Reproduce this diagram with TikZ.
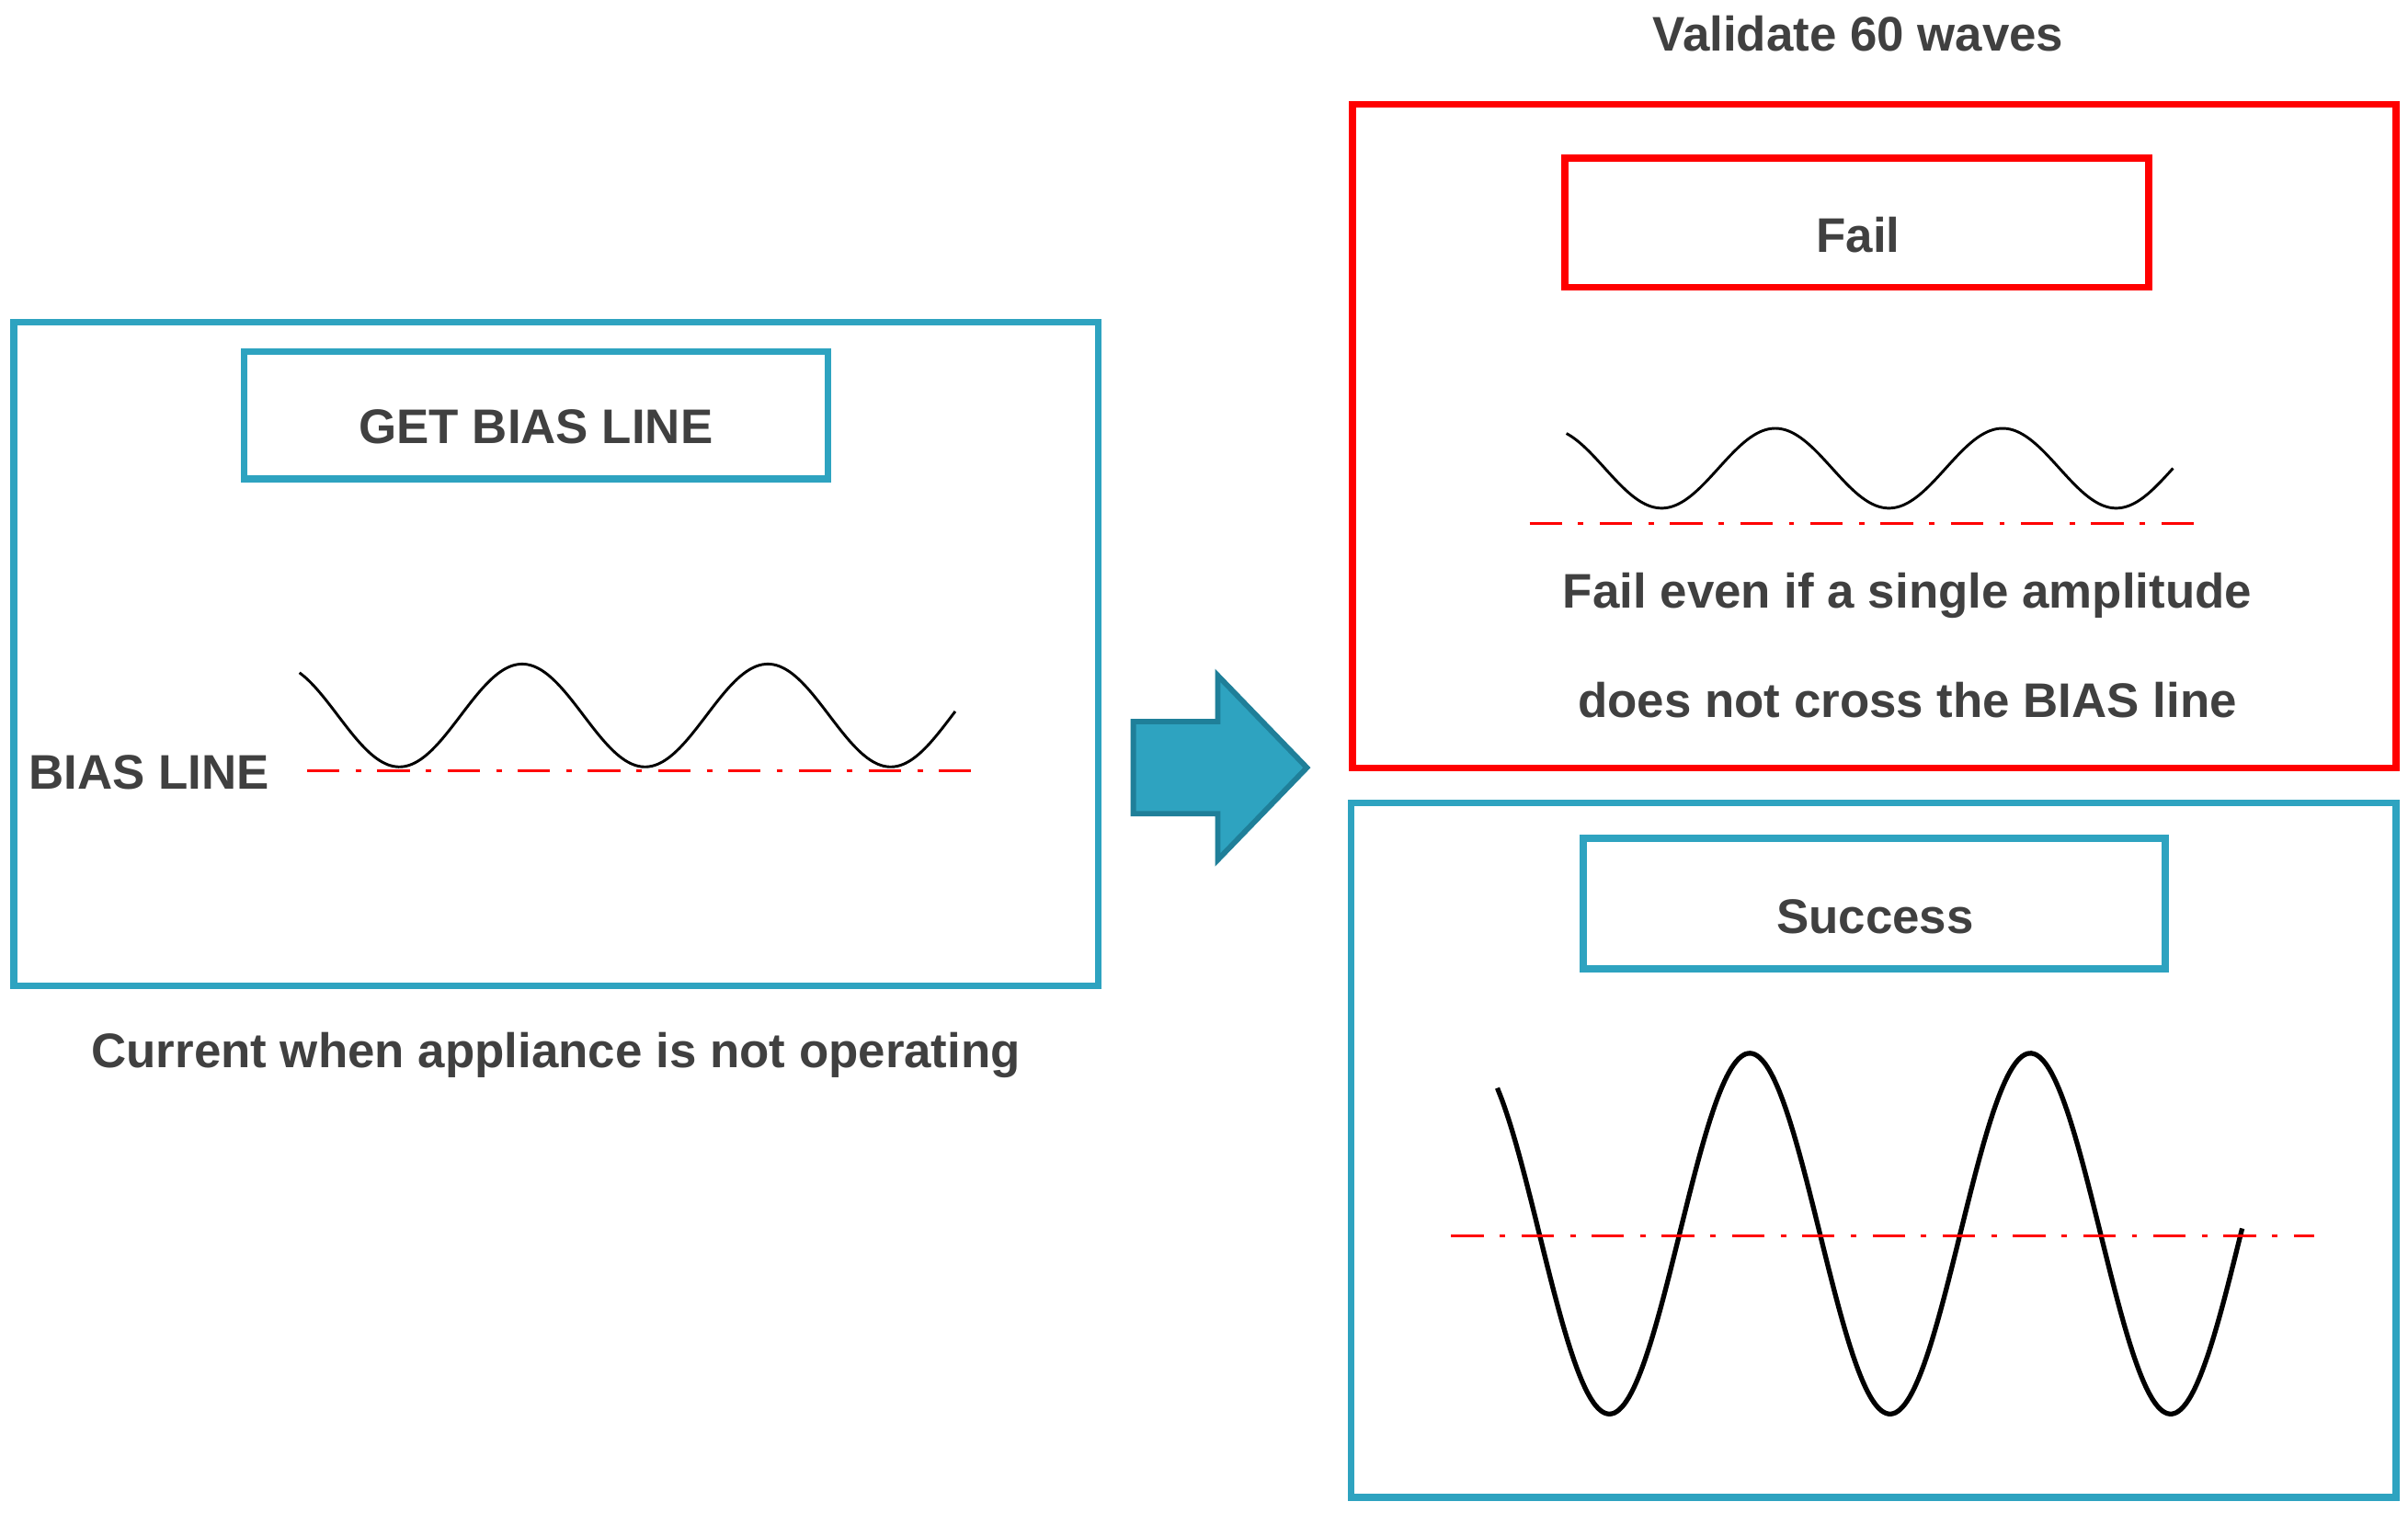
\documentclass[tikz,border=0pt]{standalone}
\usepackage{fontspec}
\setmainfont{Liberation Sans}
\usetikzlibrary{positioning}
\definecolor{teal}{HTML}{2EA3C0}
\definecolor{tealdark}{HTML}{1F7F99}
\definecolor{txt}{HTML}{404040}
\tikzset{
  frame/.style={draw, line width=1.3pt, inner sep=0pt},
  lbl/.style={font=\bfseries\fontsize{9}{11}\selectfont, text=txt},
  bias/.style={red, line width=0.5pt, dash pattern=on 6pt off 3pt on 1pt off 3pt}
}
\begin{document}
\begin{tikzpicture}[x=0.01cm, y=-0.01cm]
\useasboundingbox (0,0) rectangle (1568,985);
% left part
\node (left_box) at (362,426) [frame, teal, minimum width=7.06cm, minimum height=4.32cm] {};
\node (bias_box) at (349,270.5) [frame, teal, minimum width=3.8cm, minimum height=0.83cm] {};
\node (bias_txt) at (349,278) [lbl] {GET BIAS LINE};
\node (bias_lbl) at (97,503) [lbl] {BIAS LINE};
\node (caption) at (362,687) [lbl] {Current when appliance is not operating};
\draw [line width=0.5pt] plot[domain=195:622, samples=120, smooth] (\x,{466+33.5*cos(2.25*(\x-260))});
\draw [bias] (200,502) -- (632,502);

% arrow
\draw [fill=teal, draw=tealdark, line width=1pt] (738,470) -- (793,470) -- (793,440) -- (851,500) -- (793,560) -- (793,530) -- (738,530) -- cycle;

% fail part
\node (title) at (1210,22) [lbl] {Validate 60 waves};
\node (fail_box) at (1220.5,284) [frame, red, minimum width=6.79cm, minimum height=4.32cm] {};
\node (fail_lbl) at (1209,145) [frame, red, minimum width=3.8cm, minimum height=0.84cm] {};
\node (fail_txt) at (1210,153) [lbl] {Fail};
\node (fail_txt1) at (1242,388) [lbl] {Fail even if a single amplitude};
\node (fail_txt2) at (1242,456) [lbl] {does not cross the BIAS line};
\draw [line width=0.5pt] plot[domain=1020:1415, samples=120, smooth] (\x,{305+26*cos(2.4324*(\x-1082))});
\draw [bias] (996,341) -- (1436,341);

% success part
\node (succ_box) at (1220,749) [frame, teal, minimum width=6.8cm, minimum height=4.52cm] {};
\node (succ_lbl) at (1220.5,588.5) [frame, teal, minimum width=3.79cm, minimum height=0.85cm] {};
\node (succ_txt) at (1221,597) [lbl] {Success};
\draw [line width=0.9pt] plot[domain=975:1460, samples=160, smooth] (\x,{803.5+117.5*cos(1.97*(\x-1048))});
\draw [bias] (945,805) -- (1507,805);
\end{tikzpicture}
\end{document}
